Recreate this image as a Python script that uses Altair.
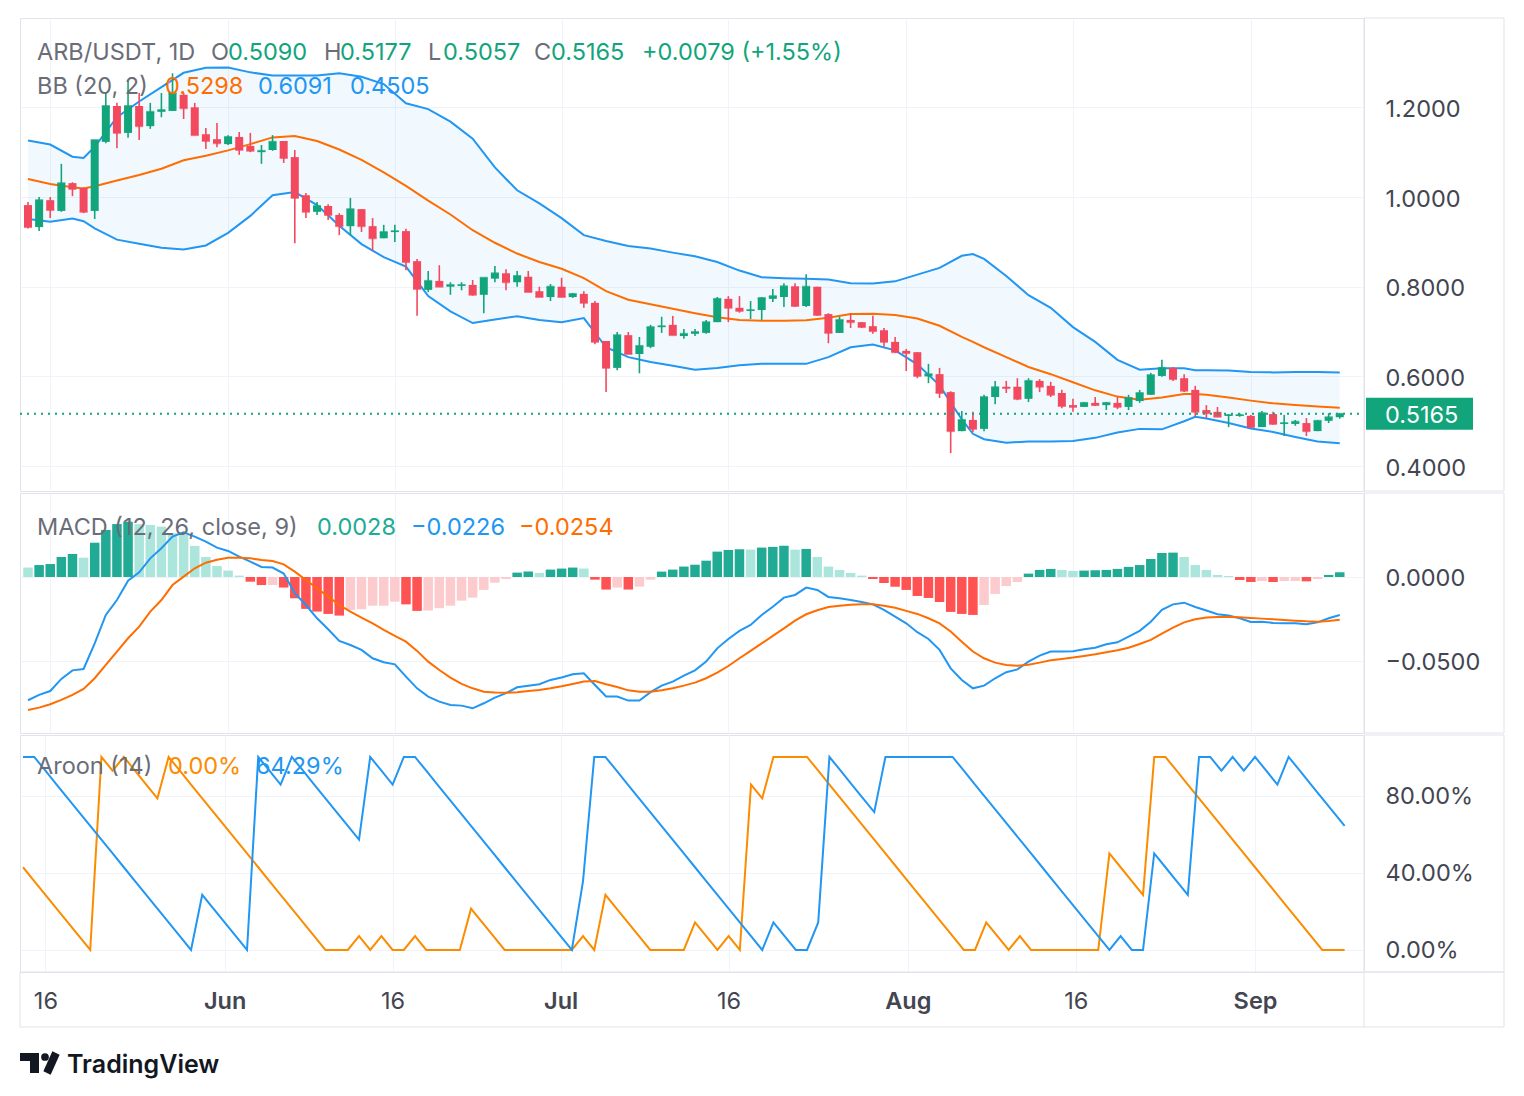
import altair as alt
import numpy as np
import pandas as pd

# ---------------- data ----------------
FIRST_DAY = "2024-05-14"

OPEN = [0.982,0.933,0.993,0.969,1.031,1.020,0.969,1.123,1.203,1.143,
        1.203,1.158,1.190,1.192,1.228,1.200,1.140,1.129,1.118,1.134,
        1.114,1.100,1.105,1.125,1.089,1.004,0.967,0.980,0.960,0.935,
        0.973,0.935,0.908,0.922,0.924,0.857,0.793,0.813,0.800,0.802,
        0.804,0.782,0.818,0.830,0.810,0.822,0.790,0.777,0.800,0.777,
        0.784,0.764,0.679,0.619,0.692,0.650,0.666,0.710,0.715,0.690,
        0.695,0.697,0.721,0.773,0.753,0.746,0.748,0.773,0.777,0.801,
        0.757,0.800,0.739,0.697,0.726,0.721,0.712,0.703,0.677,0.657,
        0.654,0.600,0.605,0.565,0.478,0.503,0.483,0.554,0.577,0.577,
        0.550,0.590,0.579,0.563,0.536,0.532,0.541,0.536,0.541,0.532,
        0.545,0.559,0.601,0.619,0.596,0.570,0.525,0.521,0.512,0.512,
        0.512,0.487,0.516,0.494,0.494,0.496,0.478,0.501,0.5090]
HIGH = [0.989,1.000,1.000,1.074,1.033,1.022,1.127,1.232,1.210,1.260,
        1.232,1.210,1.232,1.276,1.232,1.210,1.154,1.165,1.138,1.145,
        1.143,1.116,1.138,1.125,1.105,1.009,0.989,0.984,0.964,0.998,
        0.973,0.953,0.938,0.938,0.929,0.862,0.835,0.848,0.810,0.810,
        0.815,0.820,0.846,0.839,0.835,0.835,0.800,0.806,0.820,0.786,
        0.790,0.768,0.679,0.699,0.699,0.688,0.715,0.733,0.735,0.706,
        0.706,0.726,0.777,0.779,0.779,0.768,0.777,0.795,0.808,0.808,
        0.828,0.800,0.741,0.733,0.741,0.721,0.735,0.708,0.688,0.661,
        0.654,0.628,0.619,0.567,0.523,0.521,0.559,0.590,0.590,0.596,
        0.596,0.594,0.588,0.570,0.550,0.543,0.554,0.543,0.554,0.559,
        0.570,0.608,0.637,0.621,0.605,0.579,0.536,0.532,0.516,0.518,
        0.514,0.523,0.521,0.514,0.503,0.507,0.503,0.518,0.5177]
LOW = [0.930,0.924,0.953,0.967,1.002,0.964,0.951,1.120,1.109,1.132,
       1.127,1.152,1.178,1.192,1.174,1.138,1.107,1.111,1.116,1.094,
       1.100,1.074,1.103,1.076,0.897,0.953,0.960,0.949,0.915,0.915,
       0.922,0.880,0.908,0.900,0.837,0.735,0.788,0.800,0.782,0.792,
       0.780,0.741,0.810,0.792,0.800,0.788,0.777,0.768,0.777,0.775,
       0.753,0.672,0.565,0.614,0.650,0.607,0.663,0.697,0.692,0.684,
       0.690,0.695,0.721,0.721,0.742,0.728,0.726,0.766,0.755,0.755,
       0.755,0.735,0.674,0.697,0.708,0.708,0.695,0.666,0.652,0.612,
       0.596,0.585,0.552,0.429,0.478,0.476,0.478,0.538,0.563,0.547,
       0.543,0.565,0.554,0.529,0.521,0.532,0.534,0.525,0.527,0.525,
       0.541,0.559,0.599,0.590,0.565,0.510,0.507,0.510,0.487,0.510,
       0.485,0.487,0.492,0.467,0.490,0.467,0.478,0.496,0.5057]
CLOSE = [0.933,0.993,0.971,1.031,1.018,0.967,1.127,1.203,1.143,1.203,
         1.158,1.190,1.194,1.232,1.198,1.138,1.125,1.120,1.134,1.105,
         1.103,1.103,1.123,1.087,0.998,0.967,0.980,0.960,0.935,0.973,
         0.935,0.908,0.922,0.924,0.855,0.795,0.813,0.800,0.804,0.804,
         0.782,0.820,0.830,0.810,0.824,0.788,0.777,0.800,0.777,0.784,
         0.764,0.677,0.619,0.692,0.650,0.668,0.710,0.712,0.692,0.695,
         0.699,0.721,0.773,0.753,0.746,0.748,0.775,0.779,0.801,0.757,
         0.800,0.737,0.697,0.726,0.721,0.710,0.701,0.677,0.654,0.652,
         0.601,0.605,0.563,0.478,0.503,0.483,0.554,0.576,0.574,0.550,
         0.590,0.577,0.559,0.534,0.532,0.541,0.536,0.541,0.532,0.552,
         0.563,0.603,0.619,0.594,0.568,0.521,0.518,0.510,0.514,0.514,
         0.487,0.518,0.494,0.496,0.499,0.478,0.501,0.509,0.5165]

BB_DAY = [0,2,4,5,6,8,10,12,14,16,18,20,22,24,26,28,30,32,34,36,38,40,42,44,46,48,50,
          52,54,56,58,60,62,64,66,68,70,72,74,76,78,80,82,84,85,86,88,90,92,94,96,98,
          100,102,104,105,106,108,110,112,114,116,118]
BB_UPPER = [1.126,1.117,1.090,1.087,1.112,1.178,1.213,1.245,1.277,1.288,1.289,1.278,1.271,
            1.271,1.271,1.276,1.268,1.252,1.209,1.196,1.168,1.130,1.066,1.015,0.986,0.953,
            0.915,0.902,0.891,0.885,0.876,0.868,0.855,0.836,0.821,0.819,0.818,0.816,0.808,
            0.807,0.812,0.827,0.842,0.869,0.873,0.862,0.824,0.781,0.753,0.710,0.677,0.637,
            0.615,0.618,0.618,0.614,0.614,0.613,0.610,0.609,0.610,0.610,0.609]
BB_MIDDLE = [1.040,1.029,1.022,1.019,1.024,1.037,1.049,1.063,1.082,1.092,1.104,1.118,1.133,
             1.136,1.125,1.106,1.083,1.055,1.025,0.992,0.961,0.926,0.898,0.874,0.855,0.840,
             0.819,0.790,0.771,0.761,0.751,0.741,0.732,0.726,0.724,0.724,0.725,0.731,0.739,
             0.740,0.737,0.729,0.713,0.688,0.677,0.665,0.643,0.621,0.605,0.587,0.569,0.555,
             0.548,0.553,0.561,0.561,0.559,0.553,0.546,0.540,0.536,0.533,0.530]
BB_LOWER = [0.951,0.945,0.952,0.946,0.930,0.905,0.896,0.887,0.883,0.892,0.920,0.958,1.004,
            1.011,0.982,0.936,0.895,0.866,0.845,0.779,0.745,0.719,0.727,0.734,0.726,0.721,
            0.730,0.665,0.643,0.632,0.624,0.615,0.619,0.625,0.628,0.628,0.628,0.643,0.665,
            0.671,0.658,0.627,0.580,0.504,0.472,0.460,0.452,0.455,0.455,0.456,0.463,0.475,
            0.483,0.482,0.500,0.510,0.506,0.496,0.484,0.476,0.465,0.455,0.451]

MACD = [-0.0734,-0.0702,-0.0679,-0.0607,-0.0556,-0.0548,-0.0395,-0.0226,-0.0137,-0.0022,
        0.0028,0.0111,0.0171,0.0240,0.0266,0.0240,0.0210,0.0175,0.0155,0.0121,
        0.0091,0.0060,0.0056,0.0020,-0.0097,-0.0167,-0.0246,-0.0311,-0.0381,-0.0405,
        -0.0434,-0.0484,-0.0508,-0.0520,-0.0593,-0.0663,-0.0712,-0.0742,-0.0762,-0.0766,
        -0.0782,-0.0752,-0.0718,-0.0692,-0.0657,-0.0647,-0.0639,-0.0613,-0.0599,-0.0579,
        -0.0573,-0.0643,-0.0712,-0.0712,-0.0736,-0.0736,-0.0686,-0.0647,-0.0623,-0.0587,
        -0.0556,-0.0504,-0.0425,-0.0369,-0.0321,-0.0286,-0.0226,-0.0177,-0.0123,-0.0107,
        -0.0063,-0.0077,-0.0119,-0.0127,-0.0137,-0.0149,-0.0163,-0.0196,-0.0236,-0.0276,
        -0.0329,-0.0369,-0.0434,-0.0544,-0.0613,-0.0663,-0.0647,-0.0603,-0.0567,-0.0550,
        -0.0504,-0.0468,-0.0444,-0.0444,-0.0442,-0.0431,-0.0421,-0.0401,-0.0389,-0.0355,
        -0.0321,-0.0266,-0.0196,-0.0163,-0.0153,-0.0179,-0.0200,-0.0222,-0.0230,-0.0246,
        -0.0268,-0.0266,-0.0274,-0.0276,-0.0276,-0.0282,-0.0270,-0.0246,-0.0226]
SIGNAL = [-0.0792,-0.0778,-0.0758,-0.0732,-0.0702,-0.0667,-0.0603,-0.0524,-0.0444,-0.0365,
          -0.0296,-0.0206,-0.0137,-0.0048,0.0002,0.0052,0.0085,0.0103,0.0115,0.0115,
          0.0111,0.0101,0.0095,0.0075,0.0032,-0.0018,-0.0067,-0.0117,-0.0167,-0.0206,
          -0.0242,-0.0276,-0.0315,-0.0351,-0.0385,-0.0440,-0.0504,-0.0554,-0.0599,-0.0637,
          -0.0663,-0.0683,-0.0688,-0.0690,-0.0686,-0.0679,-0.0673,-0.0663,-0.0651,-0.0637,
          -0.0623,-0.0619,-0.0639,-0.0655,-0.0675,-0.0683,-0.0683,-0.0675,-0.0663,-0.0647,
          -0.0629,-0.0603,-0.0569,-0.0530,-0.0484,-0.0440,-0.0395,-0.0351,-0.0306,-0.0260,
          -0.0222,-0.0198,-0.0179,-0.0171,-0.0165,-0.0163,-0.0163,-0.0171,-0.0183,-0.0202,
          -0.0220,-0.0246,-0.0276,-0.0325,-0.0385,-0.0444,-0.0484,-0.0510,-0.0524,-0.0528,
          -0.0522,-0.0510,-0.0496,-0.0488,-0.0480,-0.0470,-0.0460,-0.0448,-0.0436,-0.0421,
          -0.0399,-0.0375,-0.0337,-0.0302,-0.0270,-0.0252,-0.0242,-0.0238,-0.0238,-0.0240,
          -0.0244,-0.0248,-0.0252,-0.0256,-0.0260,-0.0264,-0.0266,-0.0262,-0.0254]
HIST = [0.0056,0.0071,0.0077,0.0119,0.0137,0.0115,0.0204,0.0280,0.0315,0.0329,
        0.0315,0.0310,0.0300,0.0260,0.0254,0.0185,0.0119,0.0065,0.0038,0.0008,
        -0.0028,-0.0048,-0.0048,-0.0063,-0.0127,-0.0190,-0.0206,-0.0220,-0.0230,-0.0196,
        -0.0192,-0.0171,-0.0171,-0.0147,-0.0163,-0.0202,-0.0200,-0.0186,-0.0171,-0.0141,
        -0.0123,-0.0077,-0.0034,-0.0012,0.0026,0.0032,0.0024,0.0044,0.0050,0.0056,
        0.0050,-0.0016,-0.0075,-0.0063,-0.0075,-0.0058,-0.0016,0.0032,0.0044,0.0062,
        0.0073,0.0097,0.0151,0.0161,0.0165,0.0163,0.0175,0.0179,0.0186,0.0163,
        0.0167,0.0119,0.0062,0.0042,0.0024,0.0008,-0.0012,-0.0036,-0.0058,-0.0077,
        -0.0113,-0.0125,-0.0149,-0.0208,-0.0220,-0.0226,-0.0167,-0.0101,-0.0054,-0.0030,
        0.0020,0.0042,0.0048,0.0042,0.0036,0.0038,0.0040,0.0042,0.0048,0.0060,
        0.0071,0.0107,0.0143,0.0145,0.0119,0.0071,0.0042,0.0012,0.0006,-0.0018,
        -0.0030,-0.0024,-0.0030,-0.0024,-0.0024,-0.0026,-0.0012,0.0012,0.0028]

AROON_UP = [42.86,35.71,28.57,21.43,14.29,7.14,0,100,92.86,100,
            92.86,85.71,78.57,100,92.86,85.71,78.57,71.43,64.29,57.14,
            50,42.86,35.71,28.57,21.43,14.29,7.14,0,0,0,
            7.14,0,7.14,0,0,7.14,0,0,0,0,
            21.43,14.29,7.14,0,0,0,0,0,0,0,
            7.14,0,28.57,21.43,14.29,7.14,0,0,0,0,
            14.29,7.14,0,7.14,0,85.71,78.57,100,100,100,
            100,92.86,85.71,78.57,71.43,64.29,57.14,50,42.86,35.71,
            28.57,21.43,14.29,7.14,0,0,14.29,7.14,0,7.14,
            0,0,0,0,0,0,0,50,42.86,35.71,
            28.57,100,100,92.86,85.71,78.57,71.43,64.29,57.14,50,
            42.86,35.71,28.57,21.43,14.29,7.14,0,0,0]
AROON_DOWN = [100,100,92.86,85.71,78.57,71.43,64.29,57.14,50,42.86,
              35.71,28.57,21.43,14.29,7.14,0,28.57,21.43,14.29,7.14,
              0,100,92.86,85.71,100,92.86,85.71,78.57,71.43,64.29,
              57.14,100,92.86,85.71,100,100,92.86,85.71,78.57,71.43,
              64.29,57.14,50,42.86,35.71,28.57,21.43,14.29,7.14,0,
              35.71,100,100,92.86,85.71,78.57,71.43,64.29,57.14,50,
              42.86,35.71,28.57,21.43,14.29,7.14,0,14.29,7.14,0,
              0,14.29,100,92.86,85.71,78.57,71.43,100,100,100,
              100,100,100,100,92.86,85.71,78.57,71.43,64.29,57.14,
              50,42.86,35.71,28.57,21.43,14.29,7.14,0,7.14,0,
              0,50,42.86,35.71,28.57,100,100,92.86,100,92.86,
              100,92.86,85.71,100,92.86,85.71,78.57,71.43,64.29]

X_TICK_DATES = ["2024-05-16", "2024-06-01", "2024-06-16", "2024-07-01",
                "2024-07-16", "2024-08-01", "2024-08-16", "2024-09-01"]
X_TICK_LABELS = ["16", "Jun", "16", "Jul", "16", "Aug", "16", "Sep"]
PRICE_TICKS = [0.4, 0.6, 0.8, 1.0, 1.2]
MACD_TICKS = [-0.05, 0.0]
AROON_TICKS = [0, 40, 80]

# ---------------- styling ----------------
FONT = "Inter"
GREEN = "#12a47b"
RED = "#f2495e"
BLUE = "#2196f3"
ORANGE = "#ff6d00"
AR_ORANGE = "#fb8c00"
GRID = "#f0f3fa"
BORDER = "#e0e3eb"
GRAY = "#6a6d78"
AXIS_TXT = "#434651"
FS = 23.5

W = 1344
H1, H2, H3 = 473, 240, 237
XDOM = [-0.27, 119.73]

first = pd.Timestamp(FIRST_DAY)
n = len(CLOSE)
days = list(range(n))
tick_days = [int((pd.Timestamp(d) - first).days) for d in X_TICK_DATES]
month_days = [d for d, l in zip(tick_days, X_TICK_LABELS) if not l.isdigit()]

candles = pd.DataFrame({"day": days, "open": OPEN, "high": HIGH, "low": LOW, "close": CLOSE})
candles["dir"] = np.where(candles["close"] >= candles["open"], "up", "down")

bb = pd.DataFrame({"day": BB_DAY, "upper": BB_UPPER, "middle": BB_MIDDLE, "lower": BB_LOWER})

macd = pd.DataFrame({"day": days, "macd": MACD, "signal": SIGNAL, "hist": HIST})
prev = macd["hist"].shift(1)
macd["shade"] = np.where(
    macd["hist"] >= 0,
    np.where(macd["hist"] > prev, "#22ab94", "#ace5dc"),
    np.where(macd["hist"] < prev, "#ff5252", "#fccbcd"),
)

aroon = pd.DataFrame({"day": days, "up": AROON_UP, "down": AROON_DOWN})
ONE = pd.DataFrame({"k": [0]})
LAST = pd.DataFrame({"c": [CLOSE[-1]]})

label_expr = "".join(f"datum.value == {d} ? '{l}' : " for d, l in zip(tick_days, X_TICK_LABELS)) + "''"
month_test = " || ".join(f"datum.value == {d}" for d in month_days)

xscale = alt.Scale(domain=XDOM, nice=False, zero=False)
x_axis_hidden = alt.Axis(values=tick_days, labels=False, ticks=False, domain=False, grid=True,
                         gridColor=GRID, gridWidth=1, title=None)
x_axis_bottom = alt.Axis(values=tick_days, labelExpr=label_expr, ticks=False, domain=False, grid=True,
                         gridColor=GRID, gridWidth=1, title=None, labelFont=FONT, labelFontSize=FS,
                         labelColor=AXIS_TXT, labelPadding=17, labelFlush=False,
                         labelFontWeight={"condition": {"test": month_test, "value": 600}, "value": 400})


def X(field, axis):
    return alt.X(field, type="quantitative", scale=xscale, axis=axis)


def yaxis(values, fmt=None, expr=None, offset=2):
    kw = dict(values=values, orient="right", ticks=False, tickSize=0, domain=False, grid=True,
              gridColor=GRID, gridWidth=1, title=None, labelFont=FONT, labelFontSize=FS,
              labelColor=AXIS_TXT, labelPadding=21, labelAlign="left", labelBaseline="middle",
              labelOffset=offset)
    if fmt:
        kw["format"] = fmt
    if expr:
        kw["labelExpr"] = expr
    return alt.Axis(**kw)


def Y(field, scale, axis):
    return alt.Y(field, type="quantitative", scale=scale, axis=axis)


def txt(t, color, x, y, size=FS, weight=400, font=FONT):
    return alt.Chart(ONE).mark_text(text=t, color=color, align="left", baseline="middle",
                                    font=font, fontSize=size, fontWeight=weight).encode(
        x=alt.value(x), y=alt.value(y))


def box(x1, x2, y1, y2):
    return alt.Chart(ONE).mark_rect(fillOpacity=0, stroke=BORDER, strokeWidth=1).encode(
        x=alt.value(x1), x2=alt.value(x2), y=alt.value(y1), y2=alt.value(y2))


def vrule(x, y1, y2, color=BORDER, width=1):
    return alt.Chart(ONE).mark_rule(color=color, strokeWidth=width).encode(
        x=alt.value(x), y=alt.value(y1), y2=alt.value(y2))


# ---------------- price pane ----------------
pscale = alt.Scale(domain=[0.3445, 1.3992], nice=False, zero=False)
pax = yaxis(PRICE_TICKS, fmt=".4f")

bb_area = alt.Chart(bb).mark_area(color=BLUE, opacity=0.06).encode(
    x=X("day", x_axis_hidden), y=Y("upper", pscale, pax), y2="lower")
bb_up = alt.Chart(bb).mark_line(color=BLUE, strokeWidth=2).encode(
    x=X("day", x_axis_hidden), y=Y("upper", pscale, pax))
bb_lo = alt.Chart(bb).mark_line(color=BLUE, strokeWidth=2).encode(
    x=X("day", x_axis_hidden), y=Y("lower", pscale, pax))
bb_mid = alt.Chart(bb).mark_line(color=ORANGE, strokeWidth=2).encode(
    x=X("day", x_axis_hidden), y=Y("middle", pscale, pax))

ccolor = alt.Color("dir:N", scale=alt.Scale(domain=["up", "down"], range=[GREEN, RED]), legend=None)
wick = alt.Chart(candles).mark_rule(strokeWidth=1.6).encode(
    x=X("day", x_axis_hidden), y=Y("low", pscale, pax), y2="high", color=ccolor)
body = alt.Chart(candles).mark_bar(size=8).encode(
    x=X("day", x_axis_hidden), y=Y("open", pscale, pax), y2="close", color=ccolor)
body_min = alt.Chart(candles).mark_tick(orient="horizontal", size=8, thickness=2).encode(
    x=X("day", x_axis_hidden), y=Y("close", pscale, pax), color=ccolor)

last_line = alt.Chart(LAST).mark_rule(color=GREEN, strokeWidth=2, strokeDash=[2, 5]).encode(
    x=alt.value(0), x2=alt.value(W), y=Y("c", pscale, pax))
last_box = alt.Chart(LAST).mark_rule(color=GREEN, strokeWidth=32, strokeCap="butt").encode(
    x=alt.value(W + 2), x2=alt.value(W + 109), y=Y("c", pscale, pax))
last_txt = alt.Chart(LAST).mark_text(color="white", align="left", baseline="middle", dy=2,
                                     font=FONT, fontSize=FS).encode(
    x=alt.value(W + 21), y=Y("c", pscale, pax), text=alt.Text("c:Q", format=".4f"))

price_legend = [
    txt("ARB/USDT, 1D", GRAY, 17, 35), txt("O", GRAY, 191, 35), txt("0.5090", GREEN, 208, 35),
    txt("H", GRAY, 304, 35), txt("0.5177", GREEN, 320, 35), txt("L", GRAY, 408, 35),
    txt("0.5057", GREEN, 423, 35), txt("C", GRAY, 514, 35), txt("0.5165", GREEN, 531, 35),
    txt("+0.0079 (+1.55%)", GREEN, 622, 35),
    txt("BB (20, 2)", GRAY, 17, 69), txt("0.5298", ORANGE, 145, 69),
    txt("0.6091", BLUE, 238, 69), txt("0.4505", BLUE, 330, 69),
]

price = alt.layer(
    bb_area, bb_up, bb_lo, bb_mid, wick, body, body_min, last_line, last_box, last_txt,
    box(W, W + 140, 0, H1), *price_legend
).properties(width=W, height=H1)

# ---------------- MACD pane ----------------
mscale = alt.Scale(domain=[-0.0929, 0.05], nice=False, zero=False)
max_ = yaxis(MACD_TICKS, fmt=".4f")
hist = alt.Chart(macd).mark_bar(size=9.5).encode(
    x=X("day", x_axis_hidden), y=Y("hist", mscale, max_), y2=alt.datum(0),
    color=alt.Color("shade:N", scale=None))
mline = alt.Chart(macd).mark_line(color=BLUE, strokeWidth=2).encode(
    x=X("day", x_axis_hidden), y=Y("macd", mscale, max_))
sline = alt.Chart(macd).mark_line(color=ORANGE, strokeWidth=2).encode(
    x=X("day", x_axis_hidden), y=Y("signal", mscale, max_))
macd_legend = [
    txt("MACD (12, 26, close, 9)", GRAY, 17, 35), txt("0.0028", "#22ab94", 297, 35),
    txt("\u22120.0226", BLUE, 391, 35), txt("\u22120.0254", ORANGE, 499, 35),
]
macd_pane = alt.layer(hist, mline, sline, box(W, W + 140, 0, H2), *macd_legend).properties(
    width=W, height=H2)

# ---------------- Aroon pane ----------------
ascale = alt.Scale(domain=[-11.4, 111.36], nice=False, zero=False)
aax = yaxis(AROON_TICKS, expr="format(datum.value, '.2f') + '%'", offset=1)
a_up = alt.Chart(aroon).mark_line(color=AR_ORANGE, strokeWidth=2).encode(
    x=X("day", x_axis_bottom), y=Y("up", ascale, aax))
a_dn = alt.Chart(aroon).mark_line(color=BLUE, strokeWidth=2).encode(
    x=X("day", x_axis_bottom), y=Y("down", ascale, aax))
aroon_legend = [
    txt("Aroon (14)", GRAY, 17, 32), txt("0.00%", AR_ORANGE, 148, 32), txt("64.29%", BLUE, 236, 32),
]

# TradingView mark (bottom-left)
logo_bar = alt.Chart(ONE).mark_rect(color="#131722").encode(
    x=alt.value(0), x2=alt.value(19), y=alt.value(318), y2=alt.value(326))
logo_stem = alt.Chart(ONE).mark_rect(color="#131722").encode(
    x=alt.value(10), x2=alt.value(19), y=alt.value(318), y2=alt.value(338))
logo_dot = alt.Chart(ONE).mark_point(filled=True, color="#131722", size=60, opacity=1).encode(
    x=alt.value(25), y=alt.value(322))
logo_v = alt.Chart(ONE).mark_rule(color="#131722", strokeWidth=8, strokeCap="butt").encode(
    x=alt.value(27), x2=alt.value(36), y=alt.value(338), y2=alt.value(318))
brand = txt("TradingView", "#131722", 47, 330, size=25, weight=600)

aroon_pane = alt.layer(
    a_up, a_dn, box(W, W + 140, 0, H3), box(0, W + 140, H3, H3 + 55), vrule(W, H3, H3 + 55),
    *aroon_legend, logo_bar, logo_stem, logo_dot, logo_v, brand
).properties(width=W, height=H3)

chart = alt.vconcat(price, macd_pane, aroon_pane, spacing=0).properties(
    padding={"left": 10, "top": 9, "right": 10, "bottom": 10},
    background="white",
).configure_view(stroke=BORDER, strokeWidth=1).configure_axis(labelFont=FONT)

chart.save("out.html", embed_options={"renderer": "svg", "actions": False})
